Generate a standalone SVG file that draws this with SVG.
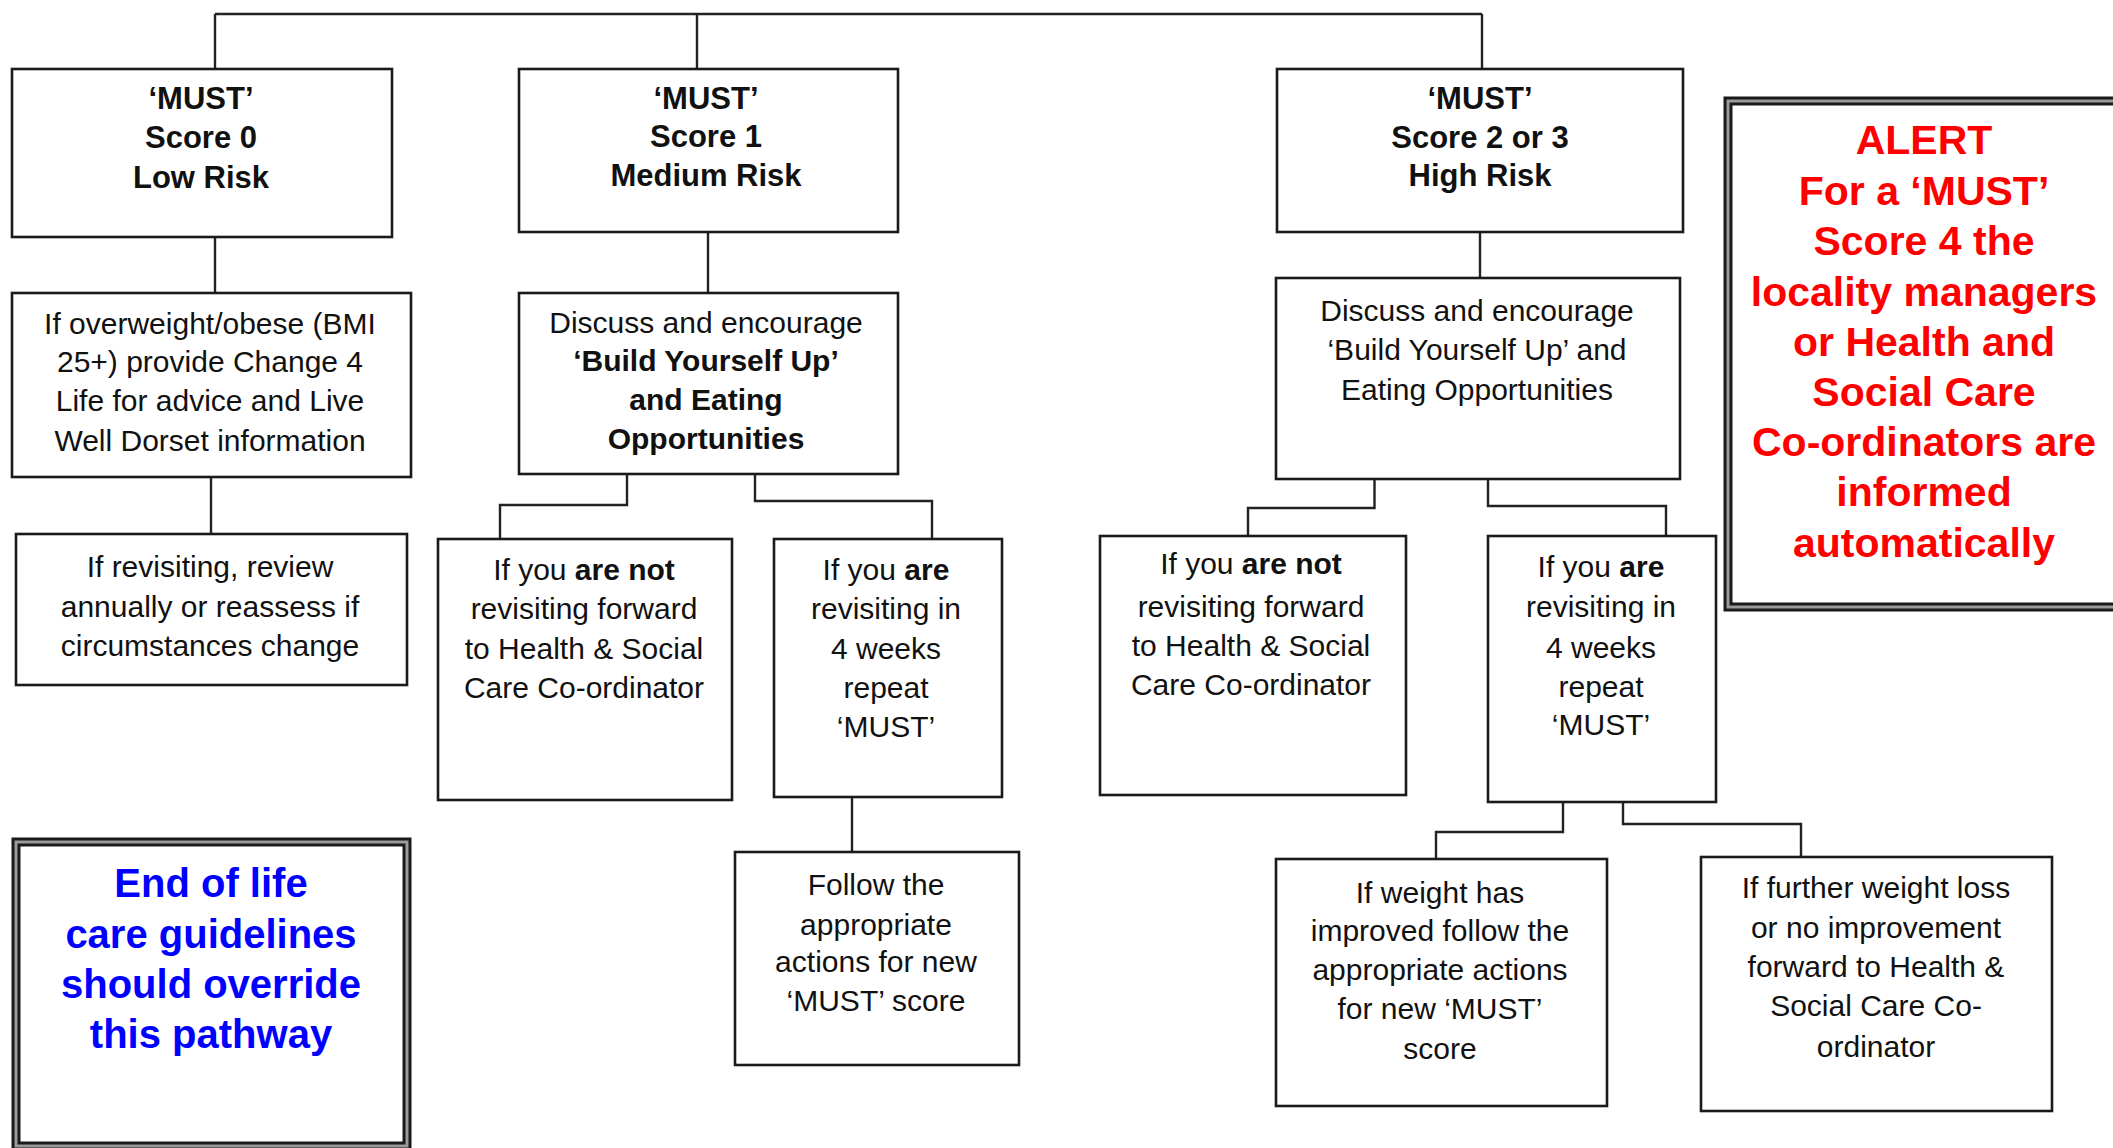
<svg xmlns="http://www.w3.org/2000/svg" width="2113" height="1148" viewBox="0 0 2113 1148">
<style>
.box{fill:#fff;stroke:#1a1a1a;stroke-width:2.6}
.conn{fill:none;stroke:#222;stroke-width:2.4}
.dbl{fill:#fff;stroke:#1a1a1a;stroke-width:9}
.dblin{fill:none;stroke:#9a9a9a;stroke-width:3}
text{font-family:"Liberation Sans",Arial,sans-serif;text-anchor:middle;fill:#111}
.t{font-size:30px}
.h{font-size:31px;font-weight:bold}
.b{font-weight:bold}
.red{font-size:41px;font-weight:bold;fill:#ff0000}
.blue{font-size:40px;font-weight:bold;fill:#0000ff}
</style>
<rect width="2113" height="1148" fill="#fff"/>
<g id="connectors">
<path class="conn" d="M215,14 H1482"/>
<path class="conn" d="M215,14 V69"/>
<path class="conn" d="M697,14 V69"/>
<path class="conn" d="M1482,14 V69"/>
<path class="conn" d="M215,237 V293"/>
<path class="conn" d="M708,232 V293"/>
<path class="conn" d="M1480,232 V278"/>
<path class="conn" d="M211,477 V534"/>
<path class="conn" d="M627,474 V505 H500 V539"/>
<path class="conn" d="M755,474 V501 H932 V539"/>
<path class="conn" d="M852,797 V852"/>
<path class="conn" d="M1374.5,479 V508 H1248 V536"/>
<path class="conn" d="M1488,479 V506 H1666 V536"/>
<path class="conn" d="M1563,802 V832 H1436 V859"/>
<path class="conn" d="M1623,797 V824 H1801 V857"/>
</g>
<g id="must0">
<rect class="box" x="12" y="69" width="380" height="168"/>
<text class="h" x="201" y="109">‘MUST’</text>
<text class="h" x="201" y="148">Score 0</text>
<text class="h" x="201" y="188">Low Risk</text>
</g>
<g id="must1">
<rect class="box" x="519" y="69" width="379" height="163"/>
<text class="h" x="706" y="109">‘MUST’</text>
<text class="h" x="706" y="147">Score 1</text>
<text class="h" x="706" y="186">Medium Risk</text>
</g>
<g id="must23">
<rect class="box" x="1277" y="69" width="406" height="163"/>
<text class="h" x="1480" y="109">‘MUST’</text>
<text class="h" x="1480" y="148">Score 2 or 3</text>
<text class="h" x="1480" y="186">High Risk</text>
</g>
<g id="alert">
<rect class="dbl" x="1728" y="101" width="420" height="506"/>
<rect class="dblin" x="1728" y="101" width="420" height="506"/>
<text class="red" x="1924" y="154">ALERT</text>
<text class="red" x="1924" y="205">For a ‘MUST’</text>
<text class="red" x="1924" y="255">Score 4 the</text>
<text class="red" x="1924" y="306">locality managers</text>
<text class="red" x="1924" y="356">or Health and</text>
<text class="red" x="1924" y="406">Social Care</text>
<text class="red" x="1924" y="456">Co-ordinators are</text>
<text class="red" x="1924" y="506">informed</text>
<text class="red" x="1924" y="557">automatically</text>
</g>
<g id="lowaction">
<rect class="box" x="12" y="293" width="399" height="184"/>
<text class="t" x="210" y="334">If overweight/obese (BMI</text>
<text class="t" x="210" y="372">25+) provide Change 4</text>
<text class="t" x="210" y="411">Life for advice and Live</text>
<text class="t" x="210" y="451">Well Dorset information</text>
</g>
<g id="medaction">
<rect class="box" x="519" y="293" width="379" height="181"/>
<text class="t" x="706" y="333">Discuss and encourage</text>
<text class="t b" x="706" y="371">‘Build Yourself Up’</text>
<text class="t b" x="706" y="410">and Eating</text>
<text class="t b" x="706" y="449">Opportunities</text>
</g>
<g id="highaction">
<rect class="box" x="1276" y="278" width="404" height="201"/>
<text class="t" x="1477" y="321">Discuss and encourage</text>
<text class="t" x="1477" y="360">‘Build Yourself Up’ and</text>
<text class="t" x="1477" y="400">Eating Opportunities</text>
</g>
<g id="lowrevisit">
<rect class="box" x="16" y="534" width="391" height="151"/>
<text class="t" x="210" y="577">If revisiting, review</text>
<text class="t" x="210" y="617">annually or reassess if</text>
<text class="t" x="210" y="656">circumstances change</text>
</g>
<g id="mednot">
<rect class="box" x="438" y="539" width="294" height="261"/>
<text class="t" x="584" y="580">If you <tspan class="b">are not</tspan></text>
<text class="t" x="584" y="619">revisiting forward</text>
<text class="t" x="584" y="659">to Health &amp; Social</text>
<text class="t" x="584" y="698">Care Co-ordinator</text>
</g>
<g id="medare">
<rect class="box" x="774" y="539" width="228" height="258"/>
<text class="t" x="886" y="580">If you <tspan class="b">are</tspan></text>
<text class="t" x="886" y="619">revisiting in</text>
<text class="t" x="886" y="659">4 weeks</text>
<text class="t" x="886" y="698">repeat</text>
<text class="t" x="886" y="737">‘MUST’</text>
</g>
<g id="medfollow">
<rect class="box" x="735" y="852" width="284" height="213"/>
<text class="t" x="876" y="895">Follow the</text>
<text class="t" x="876" y="935">appropriate</text>
<text class="t" x="876" y="972">actions for new</text>
<text class="t" x="876" y="1011">‘MUST’ score</text>
</g>
<g id="highnot">
<rect class="box" x="1100" y="536" width="306" height="259"/>
<text class="t" x="1251" y="574">If you <tspan class="b">are not</tspan></text>
<text class="t" x="1251" y="617">revisiting forward</text>
<text class="t" x="1251" y="656">to Health &amp; Social</text>
<text class="t" x="1251" y="695">Care Co-ordinator</text>
</g>
<g id="highare">
<rect class="box" x="1488" y="536" width="228" height="266"/>
<text class="t" x="1601" y="577">If you <tspan class="b">are</tspan></text>
<text class="t" x="1601" y="617">revisiting in</text>
<text class="t" x="1601" y="658">4 weeks</text>
<text class="t" x="1601" y="697">repeat</text>
<text class="t" x="1601" y="735">‘MUST’</text>
</g>
<g id="improved">
<rect class="box" x="1276" y="859" width="331" height="247"/>
<text class="t" x="1440" y="903">If weight has</text>
<text class="t" x="1440" y="941">improved follow the</text>
<text class="t" x="1440" y="980">appropriate actions</text>
<text class="t" x="1440" y="1019">for new ‘MUST’</text>
<text class="t" x="1440" y="1059">score</text>
</g>
<g id="further">
<rect class="box" x="1701" y="857" width="351" height="254"/>
<text class="t" x="1876" y="898">If further weight loss</text>
<text class="t" x="1876" y="938">or no improvement</text>
<text class="t" x="1876" y="977">forward to Health &amp;</text>
<text class="t" x="1876" y="1016">Social Care Co-</text>
<text class="t" x="1876" y="1057">ordinator</text>
</g>
<g id="endoflife">
<rect class="dbl" x="16" y="842" width="391" height="304"/>
<rect class="dblin" x="16" y="842" width="391" height="304"/>
<text class="blue" x="211" y="897">End of life</text>
<text class="blue" x="211" y="948">care guidelines</text>
<text class="blue" x="211" y="998">should override</text>
<text class="blue" x="211" y="1048">this pathway</text>
</g>
</svg>
